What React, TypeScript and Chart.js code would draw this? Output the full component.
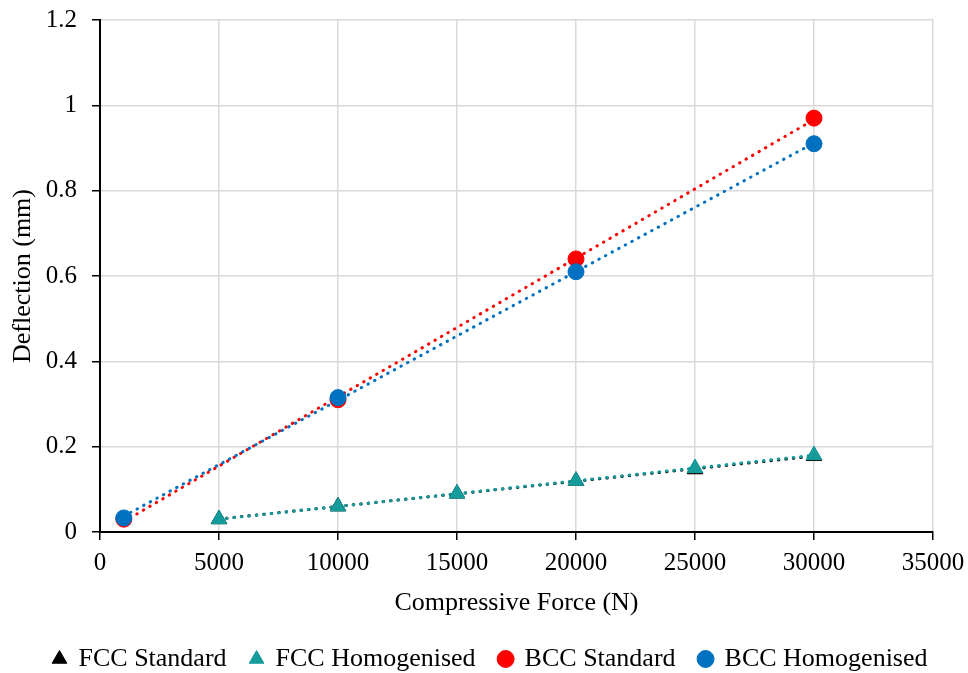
import React, { useEffect, useRef } from "react";
import { Chart, registerables } from "chart.js";

Chart.register(...registerables);

const fccForce = [5000, 10000, 15000, 20000, 25000, 30000];
const fccStandard = [0.03, 0.06, 0.09, 0.12, 0.147, 0.178];
const fccHomogenised = [0.03, 0.06, 0.09, 0.12, 0.15, 0.18];
const bccForce = [1000, 10000, 20000, 30000];
const bccStandard = [0.03, 0.31, 0.64, 0.97];
const bccHomogenised = [0.033, 0.315, 0.61, 0.91];
const xTicks = [0, 5000, 10000, 15000, 20000, 25000, 30000, 35000];
const yTicks = [0, 0.2, 0.4, 0.6, 0.8, 1, 1.2];

const seriesNames = ["FCC Standard", "FCC Homogenised", "BCC Standard", "BCC Homogenised"];

function pts(xs: number[], ys: number[]) {
  return xs.map((x, i) => ({ x, y: ys[i] }));
}

// Linear least-squares trendline (like the spreadsheet's linear trendline)
function trend(xs: number[], ys: number[]) {
  const n = xs.length;
  const mx = xs.reduce((a, b) => a + b, 0) / n;
  const my = ys.reduce((a, b) => a + b, 0) / n;
  let sxx = 0, sxy = 0;
  for (let i = 0; i < n; i++) {
    sxx += (xs[i] - mx) ** 2;
    sxy += (xs[i] - mx) * (ys[i] - my);
  }
  const m = sxy / sxx;
  const b = my - m * mx;
  const x0 = xs[0], x1 = xs[n - 1];
  return [{ x: x0, y: m * x0 + b }, { x: x1, y: m * x1 + b }];
}

const BLACK = "#000000";
const TEAL = "#169B9B";
const RED = "#FF0000";
const BLUE = "#0070C0";

const legendShift = {
  id: "legendShift",
  afterLayout(chart: any) {
    if (chart.legend) {
      chart.legend.left += 24;
      chart.legend.right += 24;
    }
  },
};

export default function App() {
  const ref = useRef<HTMLCanvasElement>(null);
  useEffect(() => {
    if (!ref.current) return;
    const font = "'Liberation Serif', 'Times New Roman', serif";
    const lineDs = (data: any, color: string, order: number) => ({
      label: "trend",
      data,
      showLine: true,
      borderColor: color,
      backgroundColor: color,
      borderWidth: 3,
      borderDash: [0.5, 7],
      borderCapStyle: "round" as const,
      pointRadius: 0,
      order,
    });
    const chart = new Chart(ref.current, {
      type: "scatter",
      plugins: [legendShift],
      data: {
        datasets: [
          {
            label: seriesNames[0],
            data: pts(fccForce, fccStandard),
            pointStyle: "triangle",
            pointRadius: 9,
            backgroundColor: BLACK,
            borderColor: BLACK,
            borderWidth: 1,
            order: 3,
          },
          {
            label: seriesNames[1],
            data: pts(fccForce, fccHomogenised),
            pointStyle: "triangle",
            pointRadius: 9,
            backgroundColor: TEAL,
            borderColor: TEAL,
            borderWidth: 1,
            order: 2,
          },
          {
            label: seriesNames[2],
            data: pts(bccForce, bccStandard),
            pointStyle: "circle",
            pointRadius: 8,
            backgroundColor: RED,
            borderColor: RED,
            borderWidth: 1,
            order: 1,
          },
          {
            label: seriesNames[3],
            data: pts(bccForce, bccHomogenised),
            pointStyle: "circle",
            pointRadius: 8,
            backgroundColor: BLUE,
            borderColor: BLUE,
            borderWidth: 1,
            order: 0,
          },
          lineDs(trend(fccForce, fccStandard), BLACK, 7),
          lineDs(trend(fccForce, fccHomogenised), TEAL, 6),
          lineDs(trend(bccForce, bccStandard), RED, 5),
          lineDs(trend(bccForce, bccHomogenised), BLUE, 4),
        ] as any,
      },
      options: {
        animation: false,
        responsive: false,
        layout: { padding: { left: 0, right: 35, top: 10, bottom: -9 } },
        plugins: {
          tooltip: { enabled: false },
          legend: {
            position: "bottom",
            labels: {
              usePointStyle: true,
              boxWidth: 12,
              boxHeight: 12,
              padding: 24,
              color: "#000",
              font: { family: font, size: 26 },
              filter: (item: any) => item.datasetIndex < 4,
              sort: (a: any, b: any) => a.datasetIndex - b.datasetIndex,
            },
          },
        },
        scales: {
          x: {
            type: "linear",
            min: 0,
            max: 35000,
            afterBuildTicks: (axis: any) => {
              axis.ticks = xTicks.map((v) => ({ value: v }));
            },
            ticks: {
              color: "#000",
              font: { family: font, size: 25 },
              padding: 0,
              maxRotation: 0,
              callback: (v: any) => String(v),
            },
            grid: {
              color: "#d9d9d9",
              lineWidth: 1.5,
              tickColor: "#000",
              tickLength: 16,
              tickBorderDash: [7, 100],
            },
            border: { color: "#000", width: 2 },
            title: {
              display: true,
              text: "Compressive Force (N)",
              color: "#000",
              font: { family: font, size: 26 },
              padding: { top: 9.4, bottom: 3.4 },
            },
          },
          y: {
            type: "linear",
            min: 0,
            max: 1.2,
            afterBuildTicks: (axis: any) => {
              axis.ticks = yTicks.map((v) => ({ value: v }));
            },
            ticks: {
              color: "#000",
              font: { family: font, size: 25 },
              padding: 5,
              callback: (v: any) => String(Math.round(v * 10) / 10),
            },
            grid: {
              color: "#d9d9d9",
              lineWidth: 1.5,
              tickColor: "#000",
              tickLength: 18,
              tickBorderDash: [0, 10, 8, 100],
            },
            border: { color: "#000", width: 2 },
            title: {
              display: true,
              text: "Deflection (mm)",
              color: "#000",
              font: { family: font, size: 26 },
              padding: { top: 7.4, bottom: 2.15 },
            },
          },
        },
      } as any,
    });
    return () => chart.destroy();
  }, []);
  return (
    <div style={{ position: "fixed", left: 0, top: 0, width: 968, height: 673, background: "#fff" }}>
      <canvas ref={ref} width={968} height={673} style={{ width: 968, height: 673, display: "block" }} />
    </div>
  );
}
